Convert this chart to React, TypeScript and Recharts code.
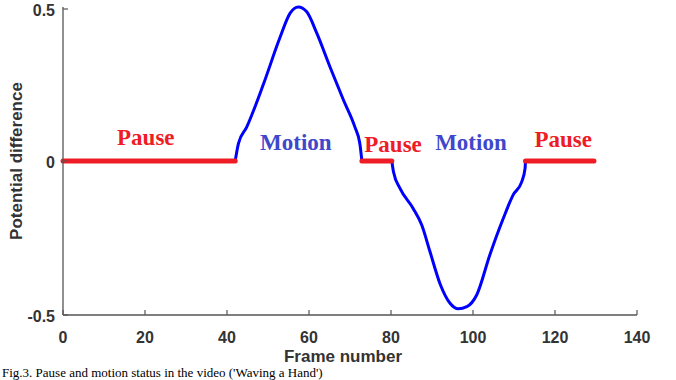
import { LineChart, Line, XAxis, YAxis, ReferenceDot, Label } from 'recharts';

// frame number / potential difference
const pause1 = [{ x: 0, y: 0 }, { x: 42, y: 0 }];
const pause2 = [{ x: 72.9, y: 0 }, { x: 80.2, y: 0 }];
const pause3 = [{ x: 112.8, y: 0 }, { x: 129.5, y: 0 }];

const motion1 = [
  { x: 42, y: 0 }, { x: 42.8, y: 0.057 }, { x: 44.8, y: 0.11 }, { x: 48.9, y: 0.25 },
  { x: 52.9, y: 0.4 }, { x: 55.4, y: 0.48 }, { x: 57.4, y: 0.5 }, { x: 59.4, y: 0.485 },
  { x: 61.9, y: 0.415 }, { x: 65.1, y: 0.306 }, { x: 68.4, y: 0.198 }, { x: 71.2, y: 0.11 },
  { x: 72.4, y: 0.057 }, { x: 72.9, y: 0 },
];
const motion2 = [
  { x: 80.2, y: 0 }, { x: 80.6, y: -0.035 }, { x: 82.2, y: -0.089 }, { x: 85.4, y: -0.154 },
  { x: 87.5, y: -0.208 }, { x: 89.5, y: -0.294 }, { x: 92, y: -0.4 }, { x: 94.4, y: -0.462 },
  { x: 96.4, y: -0.48 }, { x: 98.5, y: -0.473 }, { x: 100.9, y: -0.435 }, { x: 104.1, y: -0.305 },
  { x: 107.4, y: -0.186 }, { x: 109.8, y: -0.11 }, { x: 111.9, y: -0.067 }, { x: 112.7, y: -0.024 },
  { x: 112.8, y: 0 },
];

const notes = [
  { x: 20.2, y: 0.052, text: 'Pause', kind: 'pause' },
  { x: 56.8, y: 0.036, text: 'Motion', kind: 'motion' },
  { x: 80.5, y: 0.029, text: 'Pause', kind: 'pause' },
  { x: 99.5, y: 0.036, text: 'Motion', kind: 'motion' },
  { x: 122, y: 0.045, text: 'Pause', kind: 'pause' },
];

const xTicks = [0, 20, 40, 60, 80, 100, 120, 140];
const yTicks = [-0.5, 0, 0.5];

const RED = '#ee1c25';
const BLUE = '#0000ff';
const AXIS = '#555';
const TEXT = '#333';
const SANS = '"Liberation Sans", Arial, sans-serif';
const SERIF = '"Liberation Serif", "Times New Roman", serif';

const BottomTick = ({ x, y, payload }: any) => (
  <g>
    <line x1={x} y1={y} x2={x} y2={y - 5} stroke={AXIS} strokeWidth={1.2} />
    <text x={x} y={y + 28} textAnchor="middle" fontFamily={SANS} fontWeight="bold" fontSize={16} fill={TEXT}>
      {payload.value}
    </text>
  </g>
);

const TopTick = ({ x, y }: any) => (
  <line x1={x} y1={y} x2={x} y2={y + 5} stroke={AXIS} strokeWidth={1.2} />
);

const LeftTick = ({ x, y, payload }: any) => (
  <g>
    <line x1={x} y1={y} x2={x + 5} y2={y} stroke={AXIS} strokeWidth={1.2} />
    <text x={x - 8} y={y + 7} textAnchor="end" fontFamily={SANS} fontWeight="bold" fontSize={16} fill={TEXT}>
      {payload.value}
    </text>
  </g>
);

const RightTick = ({ x, y }: any) => (
  <line x1={x} y1={y} x2={x - 5} y2={y} stroke={AXIS} strokeWidth={1.2} />
);

export default function App() {
  return (
    <div style={{ position: 'absolute', left: 0, top: 0, width: 676, height: 380, background: '#fff', overflow: 'hidden' }}>
      <LineChart width={676} height={380} margin={{ top: 7, right: 39, bottom: 0, left: 0 }}>
        <XAxis
          xAxisId={0}
          type="number"
          dataKey="x"
          domain={[0, 140]}
          ticks={xTicks}
          tickSize={0}
          tickMargin={0}
          tick={<BottomTick />}
          height={65}
          axisLine={{ stroke: AXIS, strokeWidth: 1.3 }}
          tickLine={false}
        >
          <Label
            content={() => (
              <text x={343} y={362} textAnchor="middle" fontFamily={SANS} fontWeight="bold" fontSize={17} fill={TEXT}>
                Frame number
              </text>
            )}
          />
        </XAxis>
        <XAxis
          xAxisId="top"
          orientation="top"
          type="number"
          dataKey="x"
          domain={[0, 140]}
          ticks={xTicks}
          tickSize={0}
          tickMargin={0}
          tick={<TopTick />}
          height={0}
          axisLine={{ stroke: AXIS, strokeWidth: 1.3 }}
          tickLine={false}
        />
        <YAxis
          yAxisId={0}
          type="number"
          domain={[-0.5, 0.5]}
          ticks={yTicks}
          tickSize={0}
          tickMargin={0}
          tick={<LeftTick />}
          width={63}
          axisLine={{ stroke: AXIS, strokeWidth: 1.3 }}
          tickLine={false}
        >
          <Label
            content={() => (
              <text x={22} y={161} transform="rotate(-90 22 161)" textAnchor="middle" fontFamily={SANS} fontWeight="bold" fontSize={17} fill={TEXT}>
                Potential difference
              </text>
            )}
          />
        </YAxis>
        <YAxis
          yAxisId="right"
          orientation="right"
          type="number"
          domain={[-0.5, 0.5]}
          ticks={yTicks}
          tickSize={0}
          tickMargin={0}
          tick={<RightTick />}
          width={0}
          axisLine={{ stroke: AXIS, strokeWidth: 1.3 }}
          tickLine={false}
        />
        {[motion1, motion2].map((d, i) => (
          <Line
            key={'m' + i}
            data={d}
            dataKey="y"
            type="monotone"
            stroke={BLUE}
            strokeWidth={3}
            dot={false}
            activeDot={false}
            isAnimationActive={false}
          />
        ))}
        {[pause1, pause2, pause3].map((d, i) => (
          <Line
            key={'p' + i}
            data={d}
            dataKey="y"
            type="linear"
            stroke={RED}
            strokeWidth={5}
            strokeLinecap="round"
            dot={false}
            activeDot={false}
            isAnimationActive={false}
          />
        ))}
        {notes.map((n, i) => (
          <ReferenceDot
            key={'n' + i}
            x={n.x}
            y={n.y}
            r={0}
            stroke="none"
            fill="none"
            label={(props: any) => {
              const vb = props.viewBox || {};
              const cx = vb.x + (vb.width || 0) / 2;
              const cy = vb.y + (vb.height || 0) / 2;
              return (
                <text
                  x={cx}
                  y={cy}
                  textAnchor="middle"
                  fontFamily={SERIF}
                  fontWeight="bold"
                  fontSize={23}
                  fill={n.kind === 'pause' ? RED : '#3f47cc'}
                >
                  {n.text}
                </text>
              );
            }}
          />
        ))}
        <text x={2} y={377} fontFamily={SERIF} fontSize={13} fill="#000">
          Fig.3. Pause and motion status in the video ('Waving a Hand')
        </text>
      </LineChart>
    </div>
  );
}
